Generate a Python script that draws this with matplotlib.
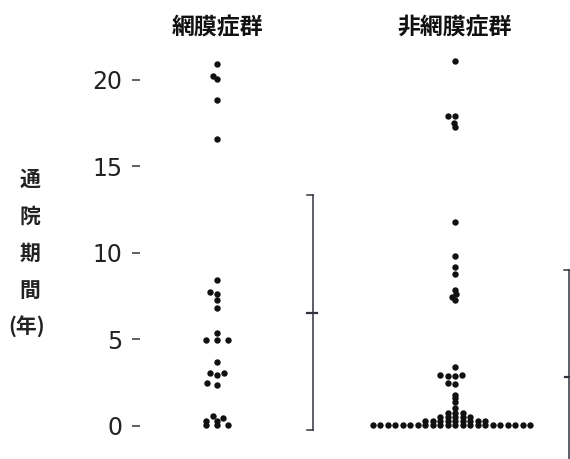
import numpy as np
import matplotlib
matplotlib.use("Agg")
import matplotlib.pyplot as plt
from matplotlib.transforms import blended_transform_factory

# 通院期間 (years)
groups = ["網膜症群", "非網膜症群"]
retino = [20.9, 20.25, 20.06, 18.86, 16.57,
          8.46, 7.76, 7.61, 7.30, 6.84,
          5.38, 4.97, 4.97, 4.97,
          3.70, 3.08, 3.08, 2.93, 2.47, 2.39,
          0.56, 0.48, 0.31, 0.31, 0.08, 0.08, 0.08]
non_retino = [21.1, 17.9, 17.9, 17.5, 17.3, 11.8,
              9.83, 9.17, 8.79, 7.84, 7.61, 7.44, 7.26,
              3.43, 2.97, 2.97, 2.91, 2.91, 2.49, 2.45,
              1.81, 1.60, 1.39, 1.04,
              0.77, 0.77, 0.77,
              0.53, 0.53, 0.53, 0.53, 0.53,
              0.29, 0.29, 0.29, 0.29, 0.29, 0.29, 0.29, 0.29, 0.29,
              0.05, 0.05, 0.05, 0.05, 0.05, 0.05, 0.05, 0.05, 0.05, 0.05, 0.05,
              0.05, 0.05, 0.05, 0.05, 0.05, 0.05, 0.05, 0.05, 0.05, 0.05, 0.05]
# mean and SD bars drawn beside each group
means = [6.55, 2.85]
sds = [6.80, 6.17]
yticks = [0, 5, 10, 15, 20]
ylabel_chars = ["通", "院", "期", "間", "(年)"]

jp = ["Noto Sans CJK JP", "DejaVu Sans"]

fig = plt.figure(figsize=(5.7, 4.59), dpi=100)
ax = fig.add_axes([140 / 570, 0, 430 / 570, 414 / 459])
ax.set_xlim(-0.3235, 1.483)
ax.set_ylim(-1.91, 22.02)

bb = ax.get_window_extent()
sx = bb.width / (1.483 + 0.3235)
sy = bb.height / (22.02 + 1.91)


def swarm(vals, rx, ry):
    """simple beeswarm, elliptic spacing rx/ry in pixels -> x offsets"""
    vals = np.asarray(vals)
    order = np.argsort(vals, kind="stable")
    placed = []
    xs = np.zeros(len(vals))
    for i in order:
        y = vals[i] * sy
        cands = [0.0]
        for px, py in placed:
            dy = abs(y - py)
            if dy < ry:
                dx = rx * np.sqrt(1 - (dy / ry) ** 2)
                cands += [px - dx, px + dx]
        cands.sort(key=abs)
        for c in cands:
            ok = True
            for px, py in placed:
                if ((c - px) / rx) ** 2 + ((y - py) / ry) ** 2 < 1 - 1e-6:
                    ok = False
                    break
            if ok:
                break
        placed.append((c, y))
        xs[i] = c / sx
    return xs


for k, (vals, rx) in enumerate([(retino, 11.0), (non_retino, 7.5)]):
    xo = swarm(vals, rx, 3.5)
    ax.plot(k + xo, vals, "o", ms=4.6, color="#111111", mec="none")

# mean +- SD brackets
bar_x = [0.402, 1.479]
serif = 0.023
for k in range(2):
    x = bar_x[k]
    lo, mid, hi = means[k] - sds[k], means[k], means[k] + sds[k]
    ax.plot([x, x], [lo, hi], color="#33333f", lw=1.1)
    ax.plot([x - serif, x], [hi, hi], color="#33333f", lw=1.1)
    ax.plot([x - serif, x], [lo, lo], color="#33333f", lw=1.1)
    if k == 0:
        ax.plot([x - serif, x + serif * 0.8], [mid, mid], color="#33333f", lw=1.6)
    else:
        ax.plot([x - serif * 0.7, x], [mid, mid], color="#33333f", lw=1.6)

for s in ax.spines.values():
    s.set_visible(False)
ax.set_xticks([])
ax.set_yticks(yticks)
ax.set_yticklabels([str(t) for t in yticks], fontsize=17, color="#222222",
                   family="DejaVu Sans")
ax.tick_params(axis="y", length=5.5, width=1.1, pad=7, color="#333333")

tr = blended_transform_factory(ax.transData, fig.transFigure)
for k, g in enumerate(groups):
    ax.text(k, 1 - 28 / 459, g, transform=tr, ha="center", va="center",
            fontsize=16.5, fontweight="bold", family=jp, color="#111111")

for j, ch in enumerate(ylabel_chars):
    xx = 30 if j < 4 else 27
    fig.text(xx / 570, 1 - (179 + 37 * j) / 459, ch, ha="center", va="center",
             fontsize=15, fontweight="bold", family=jp, color="#222222")

fig.savefig("out.png", dpi=100, facecolor="white")
